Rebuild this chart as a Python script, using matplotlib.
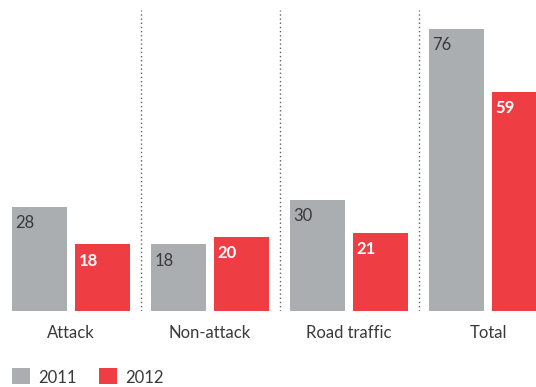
import matplotlib
matplotlib.use("Agg")
import matplotlib.pyplot as plt
from matplotlib.patches import Rectangle

categories = ["Attack", "Non-attack", "Road traffic", "Total"]
series_names = ["2011", "2012"]
values_2011 = [28, 18, 30, 76]
values_2012 = [18, 20, 21, 59]

GRAY = "#abaeb1"
RED = "#ee3d43"
TEXT = "#3a3a3a"
FONT = "Lato"

W, H = 536, 387
fig = plt.figure(figsize=(W / 100, H / 100), dpi=100)

base_px = 311          # baseline, pixels from top
px_per_unit = 3.71     # vertical scale
group_px = 139         # distance between group centres
first_center_px = 71

ax = fig.add_axes([0, (H - base_px) / H, 1, base_px / H])
ax.set_xlim(-first_center_px / group_px, (W - first_center_px) / group_px)
ax.set_ylim(0, base_px / px_per_unit)
ax.axis("off")

bw = 55 / group_px
off = 31.5 / group_px
xs = list(range(len(categories)))

g_bars = ax.bar([x - off for x in xs], values_2011, width=bw, color=GRAY, linewidth=0)
r_bars = ax.bar([x + off for x in xs], values_2012, width=bw, color=RED, linewidth=0)

for bars, vals, col, wt in ((g_bars, values_2011, TEXT, "normal"),
                            (r_bars, values_2012, "white", "bold")):
    for b, v in zip(bars, vals):
        ax.annotate(str(v), (b.get_x(), v), xytext=(2.5, -6), textcoords="offset points",
                    ha="left", va="top", fontsize=12, color=col, fontweight=wt,
                    family=FONT)

# dotted separators between groups
top_val = (base_px - 10) / px_per_unit
for x in xs[:-1]:
    ax.vlines(x + 0.5, 0, top_val, colors="#5a6470", linestyles=(0, (1, 2)), linewidth=1)

# category labels
for x, c in zip(xs, categories):
    fig.text((first_center_px + group_px * x) / W, 1 - 338 / H, c, ha="center",
             va="baseline", fontsize=12, color=TEXT, family=FONT)

# legend
for i, (name, col) in enumerate(zip(series_names, (GRAY, RED))):
    x0 = 12 + 87 * i
    fig.add_artist(Rectangle((x0 / W, 1 - 384 / H), 18 / W, 16 / H,
                             transform=fig.transFigure, color=col, linewidth=0))
    fig.text((x0 + 26) / W, 1 - 383 / H, name, ha="left", va="baseline",
             fontsize=12, color=TEXT, family=FONT)

fig.savefig("out.png", dpi=100)
